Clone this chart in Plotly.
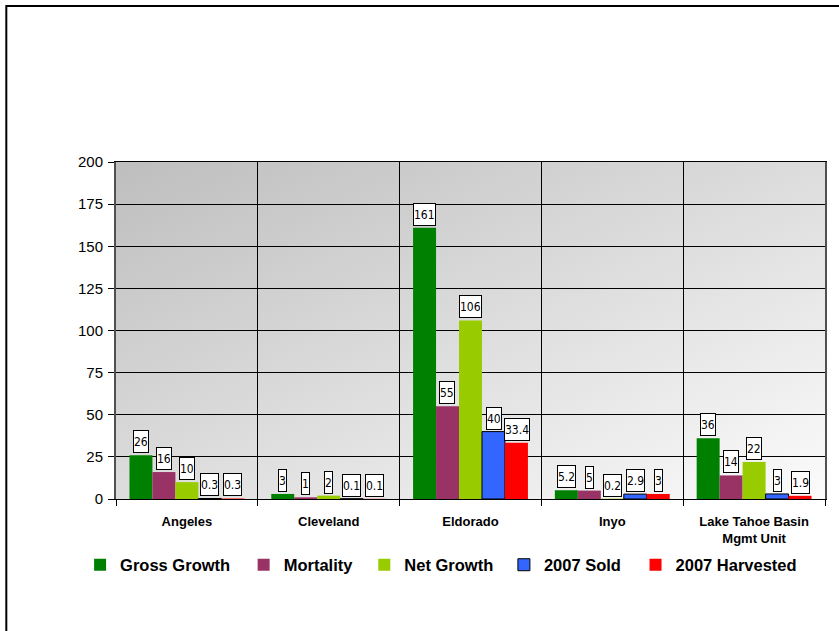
import base64
import plotly.graph_objects as go

# ---- data ----
categories = ["Angeles", "Cleveland", "Eldorado", "Inyo", "Lake Tahoe Basin<br>Mgmt Unit"]
series_names = ["Gross Growth", "Mortality", "Net Growth", "2007 Sold", "2007 Harvested"]
gross_growth = [26, 3, 161, 5.2, 36]
mortality = [16, 1, 55, 5, 14]
net_growth = [10, 2, 106, 0.2, 22]
sold_2007 = [0.3, 0.1, 40, 2.9, 3]
harvested_2007 = [0.3, 0.1, 33.4, 3, 1.9]
y_ticks = [0, 25, 50, 75, 100, 125, 150, 175, 200]

series_values = [gross_growth, mortality, net_growth, sold_2007, harvested_2007]
colors = ["#008000", "#993366", "#99CC00", "#3366FF", "#FF0000"]
outline = [0, 0, 0, 1, 0]

W, H = 839, 631
ML, MR, MT, MB = 116, 12, 162, 132
PW = W - ML - MR
PH = H - MT - MB
BARGAP = 0.19

FONT = "Arial, Liberation Sans, sans-serif"
LABEL_FONT = "Liberation Sans Narrow, Arial Narrow, DejaVu Sans Condensed, Arial, sans-serif"

fig = go.Figure()
legend_text_x = [117, 281, 402, 542, 674]  # where each legend entry text starts (px)
for i, (name, vals) in enumerate(zip(series_names, series_values)):
    lg = "legend" if i == 0 else f"legend{i+1}"
    fig.add_trace(go.Bar(
        x=categories, y=vals, name=name,
        marker=dict(color=colors[i], line=dict(color="#000000", width=outline[i])),
        legend=lg,
    ))

# data labels in boxes
cat_w = PW / len(categories)
bar_w = cat_w * (1 - BARGAP) / len(series_values)
annotations = []
for i, vals in enumerate(series_values):
    for c, v in zip(categories, vals):
        annotations.append(dict(
            x=c, y=v, xref="x", yref="y", text=f"{v:g}", showarrow=False,
            xanchor="center", yanchor="bottom", yshift=2,
            xshift=(i - (len(series_values) - 1) / 2) * bar_w,
            font=dict(family=LABEL_FONT, size=12, color="#000000"),
            bgcolor="#FFFFFF", bordercolor="#000000", borderwidth=1, borderpad=0,
            height=21,
        ))

# gradient plot background
svg = ('<svg xmlns="http://www.w3.org/2000/svg" width="100" height="100" viewBox="0 0 100 100" '
       'preserveAspectRatio="none"><defs><linearGradient id="g" x1="0" y1="0" x2="1" y2="1">'
       '<stop offset="0" stop-color="#bebebe"/><stop offset="1" stop-color="#fbfbfb"/>'
       '</linearGradient></defs><rect x="0" y="0" width="100" height="100" fill="url(#g)"/></svg>')
src = "data:image/svg+xml;base64," + base64.b64encode(svg.encode()).decode()

layout_legends = {}
for i in range(len(series_names)):
    key = "legend" if i == 0 else f"legend{i+1}"
    layout_legends[key] = dict(
        x=(legend_text_x[i] - 37 - ML) / PW, xanchor="left",
        y=(H - MB - 565) / PH, yanchor="middle",
        orientation="h", bgcolor="rgba(0,0,0,0)", borderwidth=0,
        font=dict(family=FONT, size=16.5, color="#000000", weight="bold"),
    )

fig.update_layout(
    width=W, height=H, autosize=False,
    margin=dict(l=ML, r=MR, t=MT, b=MB, pad=0),
    paper_bgcolor="#FFFFFF", plot_bgcolor="#dcdcdc",
    barmode="group", bargap=BARGAP, bargroupgap=0,
    showlegend=True,
    annotations=annotations,
    images=[dict(source=src, xref="paper", yref="paper", x=0, y=1, sizex=1, sizey=1,
                 sizing="stretch", xanchor="left", yanchor="top", layer="below")],
    shapes=[dict(type="rect", xref="paper", yref="paper",
                 x0=(6 - ML) / PW, x1=(W + 20 - ML) / PW,
                 y0=(H - MB - (H + 20)) / PH, y1=(H - MB - 6) / PH,
                 line=dict(color="#000000", width=2), fillcolor="rgba(0,0,0,0)", layer="above")],
    xaxis=dict(
        type="category", tickson="boundaries", ticks="outside", ticklen=6, tickcolor="#000000",
        showgrid=True, gridcolor="#000000", gridwidth=1,
        showline=True, linecolor="#000000", linewidth=1, mirror=True,
        tickfont=dict(family=FONT, size=13, color="#000000", weight="bold"),
        ticklabelstandoff=10,
        fixedrange=True,
    ),
    yaxis=dict(
        range=[0, 200], tickvals=y_ticks, ticks="outside", ticklen=6, tickcolor="#000000",
        showgrid=True, gridcolor="#000000", gridwidth=1, zeroline=False,
        showline=True, linecolor="#505050", linewidth=2, mirror=True,
        tickfont=dict(family=FONT, size=15, color="#000000"),
        ticklabelstandoff=2,
        fixedrange=True,
    ),
    **layout_legends,
)

fig.write_html(
    "out.html",
    config={"displayModeBar": False, "staticPlot": True},
    post_script="document.body.style.margin='0';document.body.style.overflow='hidden';",
)
